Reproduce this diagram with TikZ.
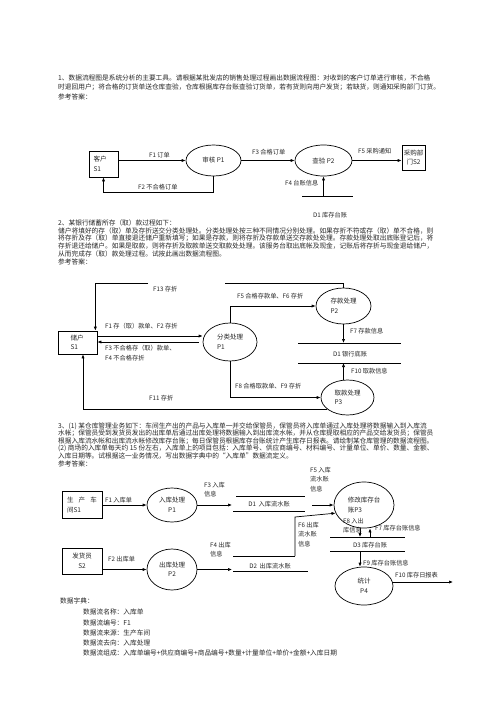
\documentclass[tikz,border=0pt]{standalone}
\usepackage{fontspec}
\setmainfont{Noto Sans CJK SC}
\usetikzlibrary{shapes.geometric,arrows.meta,calc}
\tikzset{
 body/.style={anchor=west, inner sep=0pt, text=black!85, font=\fontsize{6.7}{8}\selectfont},
 lbl/.style={anchor=west, inner sep=0pt, text=black!85, font=\fontsize{6.2}{9.5}\selectfont, align=left},
 lbltop/.style={lbl, anchor=north west},
 proc/.style={draw, ellipse, inner sep=0pt, line width=0.7pt, text=black!85, font=\fontsize{6.5}{9.5}\selectfont},
 ext/.style={draw, rectangle, inner sep=0pt, line width=0.7pt, text=black!85, font=\fontsize{6.5}{9.5}\selectfont},
 flow/.style={draw, line width=0.7pt, -{Latex[length=4pt,width=3.2pt]}},
 store/.style={draw, line width=0.7pt},
}
\begin{document}
\begin{tikzpicture}[x=1pt,y=-1pt]
\useasboundingbox (0,0) rectangle (500,725);
\fill[white] (0,0) rectangle (500,725);

% ---------------- Problem 1 text
\node[body] (t11) at (58,78) {1、数据流程图是系统分析的主要工具。请根据某批发店的销售处理过程画出数据流程图：对收到的客户订单进行审核，不合格};
\node[body] (t12) at (58,87.5) {时退回用户；将合格的订货单送仓库查验，仓库根据库存台账查验订货单，若有货则向用户发货；若缺货，则通知采购部门订货。};
\node[body] (t13) at (58,97) {参考答案：};

% ---------------- Diagram 1
\node[ext, minimum width=29pt, minimum height=26pt, align=left, text width=20pt] (c1) at (103.5,164) {客户\\S1};
\node[proc, minimum width=55pt, minimum height=31pt] (a1) at (213.5,160.5) {审核 P1};
\node[proc, minimum width=57pt, minimum height=31pt] (a2) at (323.5,160.5) {查验 P2};
\node[ext, minimum width=23pt, minimum height=25pt, align=center] (c2) at (413.5,157.5) {采购部\\门S2};
\coordinate (d1l) at (302,196);
\coordinate (d1r) at (353,196);
\coordinate (d1m) at (323.5,196);
\draw[store] (d1l) -- (d1r);
\node[lbl, anchor=center] (d1lab) at (330,215) {D1 库存台账};

\draw[flow] (c1.east |- a1.west) -- (a1.west);
\draw[flow] (a1.south) -- ++(0,16) -| (c1.south);
\draw[flow] (a1.east) -- (a2.west);
\draw[flow] (d1m) -- (a2.south);
\draw[flow] (a2.east) -- (c2.west |- a2.east);

\node[lbl] (l11) at (149,155.5) {F1 订单};
\node[lbl] (l12) at (138,187) {F2 不合格订单};
\node[lbl] (l13) at (252,152) {F3 合格订单};
\node[lbl] (l14) at (285,183) {F4 台账信息};
\node[lbl] (l15) at (358,151) {F5 采购通知};

% ---------------- Problem 2 text
\node[body] (t21) at (58,223) {2、某银行储蓄所存（取）款过程如下：};
\node[body] (t22) at (58,230.8) {储户将填好的存（取）单及存折送交分类处理处。分类处理处按三种不同情况分别处理。如果存折不符或存（取）单不合格，则};
\node[body] (t23) at (58,238.5) {将存折及存（取）单直接退还储户重新填写；如果是存款，则将存折及存款单送交存款处处理。存款处理处取出底账登记后，将};
\node[body] (t24) at (58,246.2) {存折退还给储户。如果是取款，则将存折及取款单送交取款处处理。该服务台取出底帐及现金，记账后将存折与现金退给储户，};
\node[body] (t25) at (58,254) {从而完成存（取）款处理过程。试按此画出数据流程图。};
\node[body] (t26) at (58,262) {参考答案：};

% ---------------- Diagram 2
\node[ext, minimum width=39pt, minimum height=23pt, align=left, text width=14pt] (s1b) at (77.5,342.5) {储户\\S1};
\node[proc, minimum width=54pt, minimum height=38pt, align=left] (p1b) at (230,342) {分类处理\\P1};
\node[proc, minimum width=55pt, minimum height=36pt, align=left] (p2b) at (343.5,306) {存款处理\\P2};
\node[proc, minimum width=53pt, minimum height=35pt, align=left] (p3b) at (347.5,397.5) {取款处理\\P3};
\coordinate (db1) at (298,343);
\coordinate (db2) at (401,343);
\coordinate (db3) at (298,363);
\coordinate (db4) at (401,363);
\draw[store] (db1) -- (db2);
\draw[store] (db3) -- (db4);
\node[lbl, anchor=center] (dblab) at (350,354) {D1 银行底账};

\coordinate (f13a) at (225,283);
\coordinate (f13b) at (148,283);
\draw[line width=0.7pt] (p2b.north) |- (f13a);
\draw[flow] (f13b) -| ($(s1b.north east)+(-2,0)$);
\draw[flow] ([yshift=6.5pt]s1b.east) -- ([yshift=6.5pt]s1b.east -| p1b.west);
\draw[flow] ([xshift=-4pt]p1b.west) -- (s1b.east |- p1b.west);
\draw[flow] (p1b.north) |- (p2b.west);
\draw[flow] (p2b.south) -- (p2b.south |- db1);
\draw[flow] (p3b.north -| p2b.south) -- (p2b.south |- db3);
\draw[flow] (p1b.south) |- (p3b.west);
\draw[flow] (p3b.210) -| ([xshift=5.5pt]s1b.south);

\node[lbl] (l213) at (153,289) {F13 存折};
\node[lbl] (l21) at (105,326) {F1 存（取）款单、F2 存折};
\node[lbltop] (l23) at (105,345) {F3 不合格存（取）款单、\\F4 不合格存折};
\node[lbl] (l25) at (237,296) {F5 合格存款单、F6 存折};
\node[lbl] (l27) at (350,331) {F7 存款信息};
\node[lbl] (l210) at (351,371) {F10 取款信息};
\node[lbl] (l28) at (235,386) {F8 合格取款单、F9 存折};
\node[lbl] (l211) at (149,398) {F11 存折};

% ---------------- Problem 3 text
\node[body] (t31) at (58,426) {3、(1) 某仓库管理业务如下：车间生产出的产品与入库单一并交给保管员，保管员将入库单通过入库处理将数据输入到入库流};
\node[body] (t32) at (58,433.5) {水帐；保管员受到发货员发出的出库单后通过出库处理将数据输入到出库流水帐，并从仓库提取相应的产品交给发货员；保管员};
\node[body] (t33) at (58,441) {根据入库流水帐和出库流水帐修改库存台账；每日保管员根据库存台账统计产生库存日报表。请绘制某仓库管理的数据流程图。};
\node[body] (t34) at (58,448.5) {(2) 商场的入库单每天约 15 份左右，入库单上的项目包括：入库单号、供应商编号、材料编号、计量单位、单价、数量、金额、};
\node[body] (t35) at (58,456) {入库日期等。试根据这一业务情况，写出数据字典中的“入库单”数据流定义。};
\node[body] (t36) at (58,464) {参考答案：};

% ---------------- Diagram 3
\node[ext, minimum width=40pt, minimum height=27pt, align=left] (s1c) at (82,505) {\makebox[30pt][s]{生\hfill 产\hfill 车}\\间S1};
\node[ext, minimum width=40pt, minimum height=26pt, align=center] (s2c) at (82,561) {发货员\\S2};
\node[proc, minimum width=50pt, minimum height=34pt, align=center] (p1c) at (172,505) {入库处理\\P1};
\node[proc, minimum width=50pt, minimum height=41pt, align=center] (p2c) at (172,569.5) {出库处理\\P2};
\node[proc, minimum width=60pt, minimum height=46pt, align=left] (p3c) at (364,505) {修改库存台\\账P3};
\node[proc, minimum width=58pt, minimum height=38pt, align=center] (p4c) at (364,586) {统计\\P4};

% stores
\coordinate (e1a) at (236,496); \coordinate (e1b) at (305,496);
\coordinate (e1c) at (233,511); \coordinate (e1d) at (305,511);
\draw[store] (e1a) -- (e1b); \draw[store] (e1c) -- (e1d);
\node[lbl, anchor=center] (e1lab) at (269,504) {D1\ \ 入库流水账};
\coordinate (e2a) at (233,556); \coordinate (e2b) at (295,556);
\coordinate (e2c) at (233,571); \coordinate (e2d) at (308,571);
\draw[store] (e2a) -- (e2b); \draw[store] (e2c) -- (e2d);
\node[lbl, anchor=center] (e2lab) at (270,566) {D2\ \ 出库流水账};
\coordinate (e3a) at (330,537); \coordinate (e3b) at (405,537);
\coordinate (e3c) at (330,551); \coordinate (e3d) at (405,551);
\draw[store] (e3a) -- (e3b); \draw[store] (e3c) -- (e3d);
\node[lbl, anchor=center] (e3lab) at (370,545) {D3 库存台账};

\coordinate (d1in) at (232,505);
\coordinate (d1out) at (312,505);
\coordinate (f6b) at (295,517);
\coordinate (f10e) at (453,582);

\draw[flow] (s1c.east |- p1c.west) -- (p1c.west);
\draw[flow] (s2c.east |- p2c.west) -- (p2c.west);
\draw[flow] (p1c.east) -- (d1in);
\draw[flow] (p2c.east) -- (p2c.east -| d1in);
\draw[flow] (d1out) -- (p3c.west |- d1out);
\draw[flow] (e2b) -- (f6b) -- (p3c.196);
\draw[flow] ([xshift=-4pt]p3c.south) -- ([xshift=-4pt]p3c.south |- e3a);
\draw[flow] ([xshift=6pt]p3c.south |- e3a) -- ([xshift=6pt]p3c.south);
\draw[flow] ([xshift=-4pt]p4c.north |- e3c) -- ([xshift=-4pt]p4c.north);
\draw[flow] ([yshift=4pt]p4c.east) -- (f10e);

\node[lbl] (l31) at (105,500) {F1 入库单};
\node[lbl] (l32) at (108,559) {F2 出库单};
\node[lbltop] (l33) at (204,482) {F3 入库\\信息};
\node[lbltop] (l34) at (210,542) {F4 出库\\信息};
\node[lbltop] (l35) at (310,467) {F5 入库\\流水账\\信息};
\node[lbltop] (l36) at (298,522) {F6 出库\\流水账\\信息};
\node[lbltop] (l38) at (343,518) {F8 入出\\库信息};
\node[lbl] (l37) at (375,528) {F7 库存台账信息};
\node[lbl] (l39) at (363,563) {F9 库存台账信息};
\node[lbl] (l310) at (395,575) {F10 库存日报表};

% ---------------- Data dictionary
\node[body] (dd0) at (60,601) {数据字典：};
\node[body] (dd1) at (83,612) {数据流名称：入库单};
\node[body] (dd2) at (83,622.5) {数据流编号：F1};
\node[body] (dd3) at (83,632.5) {数据流来源：生产车间};
\node[body] (dd4) at (83,642.5) {数据流去向：入库处理};
\node[body] (dd5) at (83,652.5) {数据流组成：入库单编号+供应商编号+商品编号+数量+计量单位+单价+金额+入库日期};
\end{tikzpicture}
\end{document}
